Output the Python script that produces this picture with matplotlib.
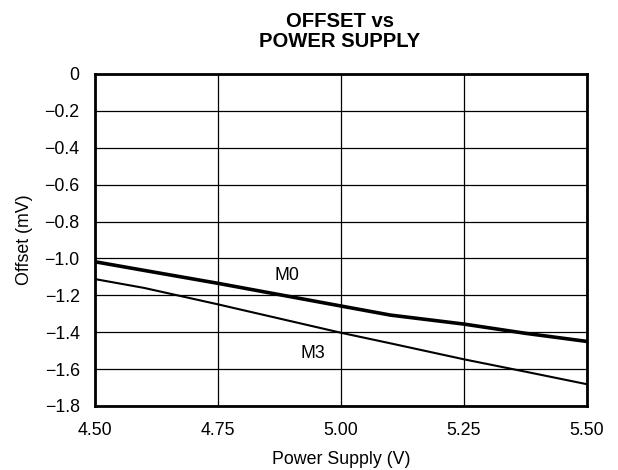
import matplotlib
matplotlib.use("Agg")
import matplotlib.pyplot as plt

plt.rcParams['font.family'] = ['Liberation Sans', 'DejaVu Sans']

x_m0 = [4.50, 4.60, 4.75, 5.00, 5.10, 5.25, 5.375, 5.50]
y_m0 = [-1.018, -1.065, -1.135, -1.258, -1.307, -1.356, -1.406, -1.450]
x_m3 = [4.50, 4.60, 4.75, 5.00, 5.10, 5.25, 5.375, 5.50]
y_m3 = [-1.112, -1.16, -1.249, -1.403, -1.46, -1.547, -1.614, -1.682]

xticks = [4.50, 4.75, 5.00, 5.25, 5.50]
xtick_labels = ["4.50", "4.75", "5.00", "5.25", "5.50"]
yticks = [0, -0.2, -0.4, -0.6, -0.8, -1.0, -1.2, -1.4, -1.6, -1.8]
ytick_labels = ["0", "\u22120.2", "\u22120.4", "\u22120.6", "\u22120.8", "\u22121.0",
                "\u22121.2", "\u22121.4", "\u22121.6", "\u22121.8"]

FS = 12.8

fig = plt.figure(figsize=(6.18, 4.70), dpi=100)
ax = fig.add_axes([0.1537, 0.1362, 0.7961, 0.7064])

ax.plot(x_m0, y_m0, color='black', lw=2.6, solid_capstyle='butt')
ax.plot(x_m3, y_m3, color='black', lw=1.5, solid_capstyle='butt')

ax.set_xlim(4.5, 5.5)
ax.set_ylim(-1.8, 0)
ax.set_xticks(xticks)
ax.set_xticklabels(xtick_labels, fontsize=FS)
ax.set_yticks(yticks)
ax.set_yticklabels(ytick_labels, fontsize=FS)
ax.tick_params(axis='x', length=0, pad=11.5)
ax.tick_params(axis='y', length=0, pad=11)
ax.grid(True, color='black', lw=0.9)
for s in ax.spines.values():
    s.set_linewidth(2)

ax.text(4.891, -1.090, "M0", fontsize=FS, ha='center', va='center')
ax.text(4.942, -1.513, "M3", fontsize=FS, ha='center', va='center')

ax.set_xlabel("Power Supply (V)", fontsize=FS, labelpad=9)
ax.set_ylabel("Offset (mV)", fontsize=FS, labelpad=8)
fig.text(339.5 / 618, 1 - 46.7 / 470, "OFFSET vs\nPOWER SUPPLY", fontsize=14.6, fontweight='bold',
         ha='center', va='baseline', linespacing=1.03, multialignment='center')

fig.savefig("out.png", dpi=100)
